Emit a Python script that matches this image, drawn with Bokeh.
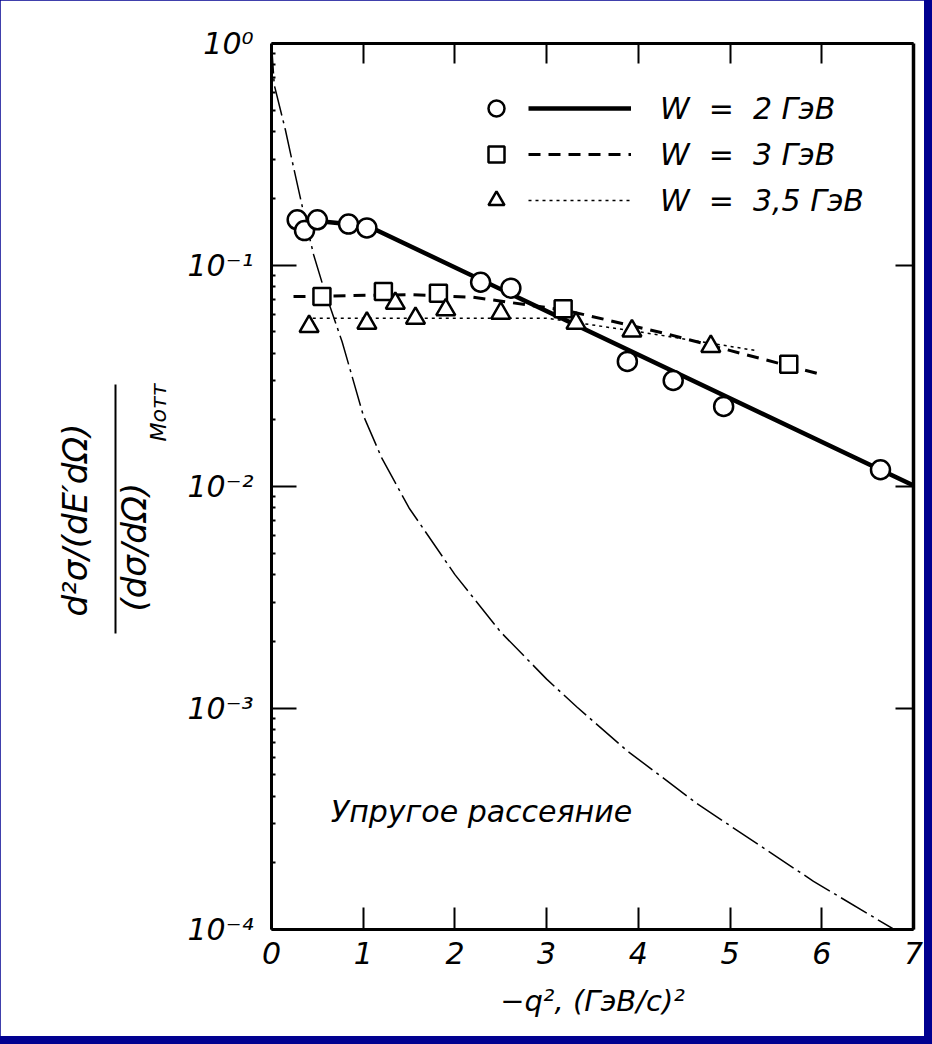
import numpy as np
from bokeh.plotting import figure
from bokeh.models import (Legend, LegendItem, LinearAxis, LogAxis, FixedTicker, Title, Label,
                          CustomJSTickFormatter, Range1d, GlobalInlineStyleSheet)
from bokeh.embed import file_html
from bokeh.resources import INLINE

# ---------------- data ----------------
# W = 2 GeV (circles) and its fit line
w2_x = [0.28, 0.36, 0.50, 0.84, 1.04, 2.28, 2.61, 3.88, 4.38, 4.93, 6.64]
w2_y = [0.160, 0.143, 0.160, 0.153, 0.147, 0.0836, 0.0786, 0.0367, 0.0301, 0.0230, 0.0119]
w2_fit_x = [0.50, 1.05, 7.0]
w2_fit_y = [0.158, 0.150, 0.0101]

# W = 3 GeV (squares) and its dashed curve
w3_x = [0.55, 1.22, 1.82, 3.18, 5.64]
w3_y = [0.0721, 0.0759, 0.0746, 0.0634, 0.0356]
w3_fit_x = [0.24, 1.5, 2.2, 3.2, 4.3, 6.0]
w3_fit_y = [0.0720, 0.0735, 0.0715, 0.0625, 0.0490, 0.0320]

# W = 3.5 GeV (triangles) and its dotted curve
w35_x = [0.41, 1.04, 1.35, 1.57, 1.90, 2.50, 3.32, 3.93, 4.79]
w35_y = [0.0528, 0.0546, 0.0672, 0.0575, 0.0628, 0.0606, 0.0546, 0.0504, 0.0429]
w35_fit_x = [0.45, 3.0, 4.0, 5.3]
w35_fit_y = [0.0575, 0.0575, 0.0500, 0.0410]

# elastic scattering curve (dash-dot)
el_x = [0.0, 0.03, 0.15, 0.21, 0.34, 0.46, 0.57, 0.77, 1.0, 1.2, 1.5, 2.0, 2.5, 3.0,
        3.33, 3.88, 4.64, 5.91, 6.79]
el_y = [1.0, 0.65, 0.41, 0.315, 0.18, 0.111, 0.0785, 0.045, 0.021, 0.0135, 0.0080, 0.0040,
        0.0022, 0.00135, 0.00101, 0.00064, 0.00037, 0.000165, 0.000100]

x_ticks = [0, 1, 2, 3, 4, 5, 6, 7]
x_tick_labels = ["0", "1", "2", "3", "4", "5", "6", "7"]
y_ticks = [1e-4, 1e-3, 1e-2, 1e-1, 1.0]
y_tick_labels = ["10\u207b\u2074", "10\u207b\u00b3", "10\u207b\u00b2", "10\u207b\u00b9", "10\u2070"]

legend_labels = ["W  =  2 \u0413\u044d\u0412", "W  =  3 \u0413\u044d\u0412", "W  =  3,5 \u0413\u044d\u0412"]
x_label = "\u2212q\u00b2, (\u0413\u044d\u0412/c)\u00b2"
elastic_label = "\u0423\u043f\u0440\u0443\u0433\u043e\u0435 \u0440\u0430\u0441\u0441\u0435\u044f\u043d\u0438\u0435"
y_num = "d\u00b2\u03c3/(dE\u2032d\u03a9)"
y_den = "(d\u03c3/d\u03a9)"
y_den_sub = "\u041c\u043e\u0442\u0442"
# vertical extent of the fraction bar, in the y-axis' own data units
fraction_bar_bounds = (0.00217, 0.0289)

# ---------------- figure ----------------
TICK_FONT = "DejaVu Sans"
TEXT_FONT = "DejaVu Sans"

p = figure(width=924, height=1036, x_range=Range1d(0, 7), y_range=Range1d(1e-4, 1.0),
           y_axis_type="log", x_axis_location=None, y_axis_location=None,
           output_backend="svg", toolbar_location=None,
           min_border_left=271, min_border_right=11, min_border_top=43, min_border_bottom=107)
p.background_fill_color = "white"
p.border_fill_color = "white"
p.outline_line_color = None
for g in p.grid:
    g.visible = False
p.stylesheets = [GlobalInlineStyleSheet(css="body { background-color: #000090; }")]

fmt_code = """
let best = 0, bd = Infinity;
for (let i = 0; i < yt.length; i++) {
  const d = Math.abs(Math.log10(tick) - Math.log10(yt[i]));
  if (d < bd) { bd = d; best = i; }
}
return yl[best];
"""
minor = [m * 10.0 ** e for e in range(-4, 0) for m in range(2, 10)]

def style_axis(ax):
    ax.axis_line_color = "black"
    ax.axis_line_width = 3
    ax.major_tick_line_color = "black"
    ax.major_tick_line_width = 2
    ax.minor_tick_line_color = "black"
    ax.major_tick_out = 0
    ax.minor_tick_out = 0
    ax.major_label_text_font = TICK_FONT
    ax.major_label_text_font_style = "italic"
    ax.major_label_text_font_size = "30px"
    ax.major_label_text_color = "black"

left = LogAxis(ticker=FixedTicker(ticks=y_ticks, minor_ticks=minor),
               formatter=CustomJSTickFormatter(args=dict(yt=y_ticks, yl=y_tick_labels), code=fmt_code))
style_axis(left)
left.major_tick_in = 25
left.minor_tick_in = 4
left.minor_tick_line_width = 2
left.major_label_standoff = 18
p.add_layout(left, "left")

right = LogAxis(ticker=FixedTicker(ticks=y_ticks), formatter=CustomJSTickFormatter(code="return ''"))
style_axis(right)
right.major_tick_in = 18
right.axis_line_width = 3.5
p.add_layout(right, "right")

bottom = LinearAxis(ticker=FixedTicker(ticks=x_ticks),
                    formatter=CustomJSTickFormatter(args=dict(xl=x_tick_labels),
                                                    code="return xl[Math.round(tick)];"))
style_axis(bottom)
bottom.major_tick_in = 22
bottom.major_label_standoff = 12
bottom.axis_label = x_label
bottom.axis_label_text_font = TEXT_FONT
bottom.axis_label_text_font_style = "italic"
bottom.axis_label_text_font_size = "29px"
bottom.axis_label_text_color = "black"
bottom.axis_label_standoff = 17
p.add_layout(bottom, "below")

top = LinearAxis(ticker=FixedTicker(ticks=x_ticks[1:-1]), formatter=CustomJSTickFormatter(code="return ''"))
style_axis(top)
top.major_tick_in = 20
p.add_layout(top, "above")

# ---------------- y-axis fraction label (stacked in the left panel) ----------------
def side_title(text, size, offset, standoff, valign):
    return Title(text=text, align="left", offset=offset, standoff=standoff, vertical_align=valign,
                 text_font=TEXT_FONT, text_font_style="italic", text_font_size=size,
                 text_color="black")

p.add_layout(side_title(y_den_sub, "22px", 488, 24, "top"), "left")
p.add_layout(side_title(y_den, "34px", 318, -40, "bottom"), "left")
p.add_layout(side_title(" ", "12px", 0, 0, "bottom"), "left")
bar = LogAxis(ticker=FixedTicker(ticks=[]), formatter=CustomJSTickFormatter(code="return ''"),
              bounds=fraction_bar_bounds, axis_line_color="black", axis_line_width=2,
              major_tick_in=0, major_tick_out=0, minor_tick_in=0, minor_tick_out=0,
              major_label_standoff=0, axis_label_standoff=0)
p.add_layout(bar, "left")
p.add_layout(side_title(y_num, "34px", 313, 37, "top"), "left")

# ---------------- curves ----------------
r_el = p.line(el_x, el_y, line_color="black", line_width=1.5, line_dash="30 5 3 5")
r_w35_l = p.line(w35_fit_x, w35_fit_y, line_color="black", line_width=1.5, line_dash="3 4")
r_w3_l = p.line(w3_fit_x, w3_fit_y, line_color="black", line_width=3, line_dash="12 8")
r_w2_l = p.line(w2_fit_x, w2_fit_y, line_color="black", line_width=4.5)

r_w2 = p.scatter(w2_x, w2_y, marker="circle", size=19, fill_color="white",
                 line_color="black", line_width=2.5)
r_w3 = p.scatter(w3_x, w3_y, marker="square", size=17, fill_color="white",
                 line_color="black", line_width=2.5)
r_w35 = p.scatter(w35_x, w35_y, marker="triangle", size=19, fill_color="white",
                  line_color="black", line_width=2.5)

# ---------------- legends ----------------
common = dict(orientation="vertical", glyph_height=40, label_height=40, spacing=6, padding=0,
              margin=0, border_line_alpha=0, background_fill_alpha=0,
              label_text_font=TEXT_FONT, label_text_font_style="italic",
              label_text_font_size="30px", label_text_color="black")
leg_m = Legend(items=[LegendItem(label=" ", renderers=[r]) for r in (r_w2, r_w3, r_w35)],
               location=(205, 709), glyph_width=40, label_standoff=0, label_width=0, **common)
leg_l = Legend(items=[LegendItem(label=t, renderers=[r]) for t, r in
                      zip(legend_labels, (r_w2_l, r_w3_l, r_w35_l))],
               location=(257, 709), glyph_width=103, label_standoff=29, **common)
p.add_layout(leg_m, "center")
p.add_layout(leg_l, "center")

# ---------------- elastic label ----------------
p.add_layout(Label(x=210, y=118, x_units="screen", y_units="screen", text=elastic_label,
                   text_font=TEXT_FONT, text_font_style="italic", text_font_size="30px",
                   text_align="center", text_baseline="middle", text_color="black"))

open("out.html", "w").write(file_html(p, INLINE))
